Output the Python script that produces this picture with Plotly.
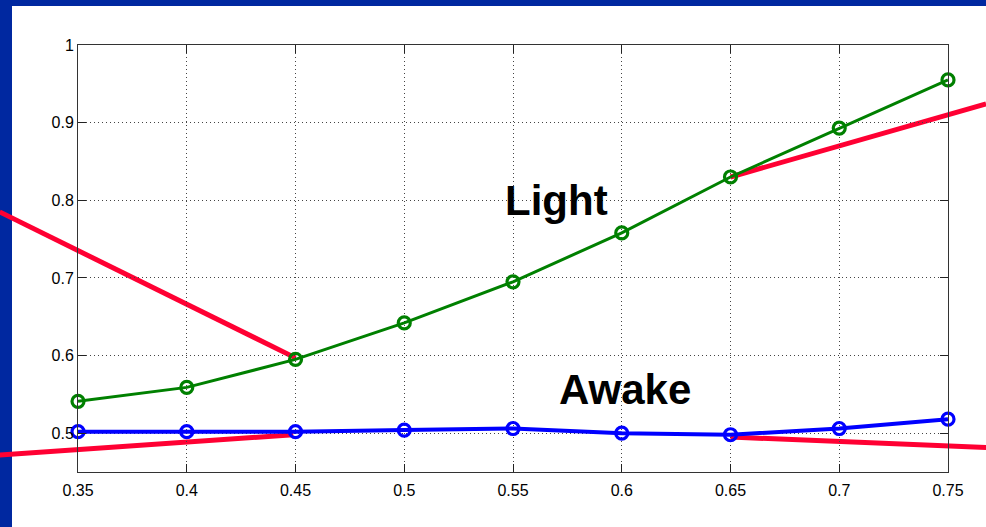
import plotly.graph_objects as go

# ---- data ----
x_vals = [0.35, 0.40, 0.45, 0.50, 0.55, 0.60, 0.65, 0.70, 0.75]
light = [0.541, 0.559, 0.595, 0.642, 0.695, 0.758, 0.830, 0.893, 0.955]
awake = [0.502, 0.502, 0.502, 0.504, 0.506, 0.500, 0.498, 0.506, 0.518]

x_ticks = [0.35, 0.40, 0.45, 0.50, 0.55, 0.60, 0.65, 0.70, 0.75]
x_tick_labels = ["0.35", "0.4", "0.45", "0.5", "0.55", "0.6", "0.65", "0.7", "0.75"]
y_ticks = [0.5, 0.6, 0.7, 0.8, 0.9, 1.0]
y_tick_labels = ["0.5", "0.6", "0.7", "0.8", "0.9", "1"]

# red highlight segments (data units, extend past the axes)
red_x0 = [0.314, 0.314, 0.650, 0.650]
red_y0 = [0.785, 0.472, 0.830, 0.495]
red_x1 = [0.450, 0.449, 0.7675, 0.7675]
red_y1 = [0.597, 0.498, 0.924, 0.4816]

x_range = [0.35, 0.75]
y_range = [0.45, 1.0]

W, H = 986, 527
ML, MR, MT, MB = 78, 38, 45, 55
PW, PH = W - ML - MR, H - MT - MB

def px(v):
    return (v - x_range[0]) / (x_range[1] - x_range[0])

def py(v):
    return (v - y_range[0]) / (y_range[1] - y_range[0])

fig = go.Figure()

fig.add_trace(go.Scatter(
    x=x_vals, y=light, mode="lines+markers", cliponaxis=False,
    line=dict(color="#008000", width=3),
    marker=dict(symbol="circle-open", size=12, color="#008000", line=dict(width=3.2, color="#008000")),
    showlegend=False))
fig.add_trace(go.Scatter(
    x=x_vals, y=awake, mode="lines+markers", cliponaxis=False,
    line=dict(color="#0000ff", width=4),
    marker=dict(symbol="circle-open", size=12, color="#0000ff", line=dict(width=3.2, color="#0000ff")),
    showlegend=False))

shapes = []
# navy frame (left and top), drawn first so red lines pass over it
navy = "#0028a0"
shapes.append(dict(type="rect", xref="paper", yref="paper",
                   x0=-(ML + 2) / PW, x1=(12 - ML) / PW, y0=-(MB + 2) / PH, y1=(H - MB + 2) / PH,
                   fillcolor=navy, line=dict(width=0), layer="below"))
shapes.append(dict(type="rect", xref="paper", yref="paper",
                   x0=-(ML + 2) / PW, x1=(W - ML + 2) / PW, y0=(H - MB - 6) / PH, y1=(H - MB + 2) / PH,
                   fillcolor=navy, line=dict(width=0), layer="below"))
for a, b, c, d in zip(red_x0, red_y0, red_x1, red_y1):
    shapes.append(dict(type="line", xref="paper", yref="paper",
                       x0=px(a), y0=py(b), x1=px(c), y1=py(d),
                       line=dict(color="#ff0033", width=5), layer="below"))

fig.add_annotation(x=0.5698, y=0.800, xref="x", yref="y", text="<b>Light</b>", showarrow=False,
                   font=dict(family="Liberation Sans, Arial", size=42, color="black"),
                   xanchor="center", yanchor="middle")
fig.add_annotation(x=0.6015, y=0.556, xref="x", yref="y", text="<b>Awake</b>", showarrow=False,
                   font=dict(family="Liberation Sans, Arial", size=42, color="black"),
                   xanchor="center", yanchor="middle")

axis_common = dict(
    showline=True, linecolor="#333333", linewidth=1, mirror="ticks",
    ticks="inside", ticklen=8, tickcolor="#222222", tickwidth=1,
    showgrid=True, gridcolor="#444444", gridwidth=1, griddash="1px,3px",
    zeroline=False, tickfont=dict(family="Liberation Sans, Arial", size=16, color="black"),
)

fig.update_xaxes(range=x_range, tickvals=x_ticks, ticktext=x_tick_labels,
                 ticklabelstandoff=4, **axis_common)
fig.update_yaxes(range=y_range, tickvals=y_ticks, ticktext=y_tick_labels, **axis_common)

fig.update_layout(
    width=W, height=H,
    margin=dict(l=ML, r=MR, t=MT, b=MB),
    paper_bgcolor="white", plot_bgcolor="white",
    shapes=shapes,
)

fig.write_html("out.html", config={"displayModeBar": False},
               post_script="document.body.style.margin='0';document.body.style.overflow='hidden';")
